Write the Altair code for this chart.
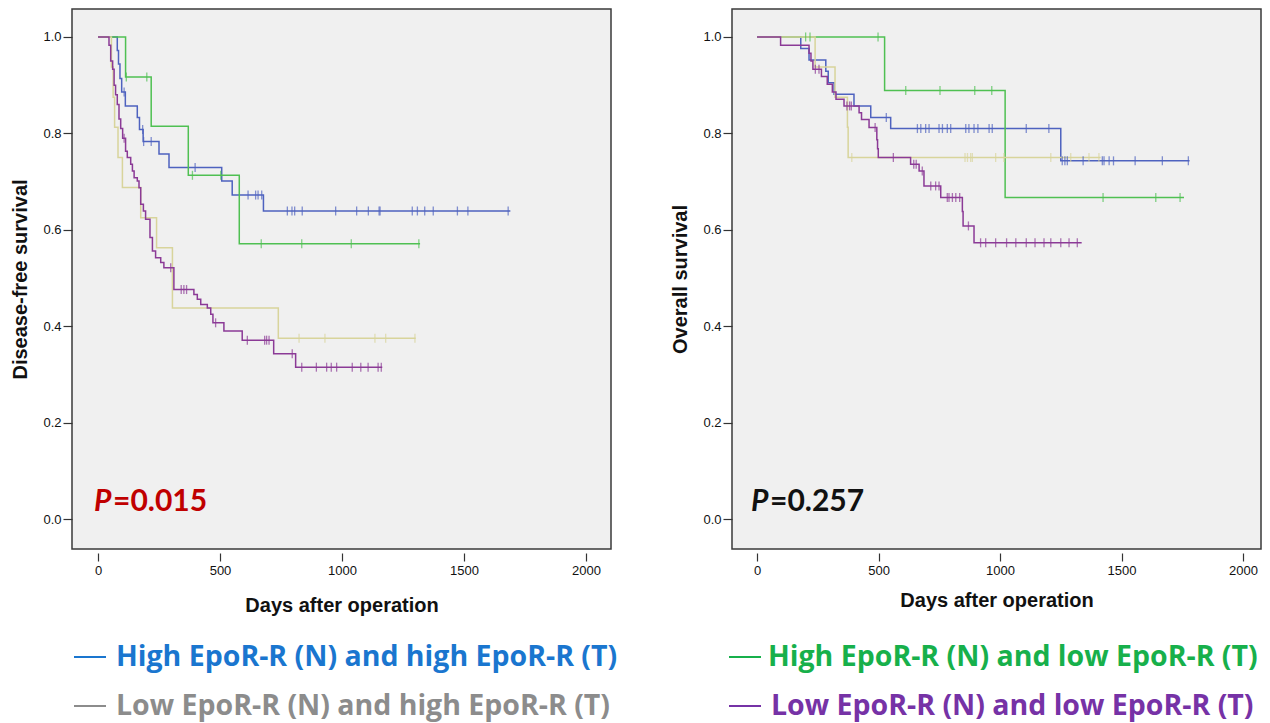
import altair as alt
import pandas as pd

# ---------------- Disease-free survival (left) ----------------
dfs_blue_t = [79, 84, 90, 97, 112, 161, 170, 185, 250, 291, 507, 550, 678]
dfs_blue_s = [0.972, 0.944, 0.914, 0.886, 0.857, 0.833, 0.808, 0.783, 0.757, 0.729, 0.701, 0.672, 0.639]
dfs_blue_c = [107, 183, 187, 218, 398, 615, 646, 656, 671, 776, 795, 806, 837, 974, 1060, 1108,
              1152, 1156, 1288, 1309, 1339, 1374, 1473, 1516, 1681]
dfs_blue_end = 1690

dfs_green_t = [113, 218, 370, 579]
dfs_green_s = [0.917, 0.815, 0.713, 0.571]
dfs_green_c = [116, 200, 387, 503, 669, 835, 1038, 1315]
dfs_green_end = 1320

dfs_tan_t = [55, 62, 68, 82, 100, 175, 240, 305, 739]
dfs_tan_s = [0.9375, 0.875, 0.8125, 0.75, 0.6875, 0.625, 0.5625, 0.4375, 0.375]
dfs_tan_c = [824, 930, 1135, 1179, 1299]
dfs_tan_end = 1302

dfs_purple_t = [45, 52, 60, 66, 72, 79, 86, 93, 101, 113, 120, 134, 141, 148, 161, 168, 175, 186,
                195, 213, 223, 236, 257, 270, 311, 393, 407, 421, 448, 462, 471, 516, 591, 720, 810]
dfs_purple_s = [0.983, 0.95, 0.933, 0.90, 0.88, 0.86, 0.83, 0.81, 0.79, 0.763, 0.750, 0.736, 0.722,
                0.708, 0.701, 0.687, 0.653, 0.639, 0.622, 0.584, 0.556, 0.542, 0.532, 0.521, 0.476,
                0.466, 0.456, 0.445, 0.438, 0.425, 0.407, 0.390, 0.371, 0.343, 0.315]
dfs_purple_c = [107, 298, 341, 352, 363, 482, 612, 683, 691, 701, 796, 835, 895, 937, 956, 978,
                1042, 1077, 1107, 1148, 1161]
dfs_purple_end = 1165

# ---------------- Overall survival (right) ----------------
os_blue_t = [180, 214, 283, 293, 317, 399, 468, 550, 1250]
os_blue_s = [0.976, 0.952, 0.929, 0.905, 0.881, 0.857, 0.833, 0.810, 0.743]
os_blue_c = [532, 660, 674, 694, 708, 749, 763, 783, 797, 859, 872, 893, 909, 955, 968, 1108, 1201,
             1256, 1267, 1277, 1342, 1421, 1428, 1449, 1467, 1556, 1668, 1775]
os_blue_end = 1780

os_green_t = [525, 1021]
os_green_s = [0.889, 0.667]
os_green_c = [200, 218, 498, 612, 753, 896, 966, 1424, 1641, 1741]
os_green_end = 1757

os_tan_t = [239, 321, 372, 375]
os_tan_s = [0.9375, 0.875, 0.8125, 0.75]
os_tan_c = [390, 856, 866, 879, 886, 982, 1016, 1209, 1291, 1366, 1407]
os_tan_end = 1414

os_purple_t = [97, 214, 222, 230, 265, 289, 310, 325, 358, 420, 430, 461, 493, 496, 499, 632, 667,
               687, 756, 845, 848, 893]
os_purple_s = [0.983, 0.966, 0.950, 0.933, 0.918, 0.902, 0.886, 0.871, 0.857, 0.843, 0.829, 0.812,
               0.787, 0.768, 0.750, 0.736, 0.722, 0.691, 0.667, 0.638, 0.608, 0.573]
os_purple_c = [240, 255, 370, 381, 388, 486, 561, 645, 655, 680, 715, 735, 749, 783, 790, 804, 818,
               834, 870, 920, 941, 982, 1027, 1065, 1108, 1144, 1181, 1209, 1250, 1284, 1318]
os_purple_end = 1336

groups = ["HH", "HL", "LH", "LL"]
line_colors = ["#4e62bf", "#4fc052", "#d8d49b", "#8b3a96"]

legend_labels = ["High EpoR-R (N) and high EpoR-R (T)", "High EpoR-R (N) and low EpoR-R (T)",
                 "Low EpoR-R (N) and high EpoR-R (T)", "Low EpoR-R (N) and low EpoR-R (T)"]
legend_colors = ["#1a76cf", "#17b04b", "#8c8c8c", "#7632a6"]

p_values = ["=0.015", "=0.257"]
p_colors = ["#c00000", "#111111"]
y_titles = ["Disease-free survival", "Overall survival"]
x_title = "Days after operation"
x_ticks = [0, 500, 1000, 1500, 2000]
y_ticks = [0.0, 0.2, 0.4, 0.6, 0.8, 1.0]


def km_tables(series):
    line_rows, cens_rows = [], []
    for g, (t, s, c, end) in series.items():
        line_rows.append({"group": g, "day": 0, "surv": 1.0})
        for ti, si in zip(t, s):
            line_rows.append({"group": g, "day": ti, "surv": si})
        line_rows.append({"group": g, "day": end, "surv": s[-1]})
        for ci in c:
            val = 1.0
            for ti, si in zip(t, s):
                if ti <= ci:
                    val = si
            cens_rows.append({"group": g, "day": ci, "surv": val})
    return pd.DataFrame(line_rows), pd.DataFrame(cens_rows)


FONT_AX = "Liberation Sans"
FONT_TXT = "Open Sans"
FONT_P = "Lato"


def panel(series, xdom, width, y_title, p_text, p_color, title_pad, leg_idx, leg_x):
    lines, cens = km_tables(series)
    color = alt.Color("group:N", scale=alt.Scale(domain=groups, range=line_colors), legend=None)
    xs = alt.X("day:Q", scale=alt.Scale(domain=xdom, nice=False, zero=False),
               axis=alt.Axis(values=x_ticks, format="d", domain=False, grid=False, tickSize=8,
                             tickColor="#333", tickWidth=1.2, offset=4, labelFont=FONT_AX,
                             labelFontSize=13, labelColor="#111", labelPadding=3, title=x_title,
                             titleFont=FONT_AX, titleFontSize=20, titleFontWeight="bold",
                             titleColor="#111", titlePadding=title_pad))
    ys = alt.Y("surv:Q", scale=alt.Scale(domain=[-0.0622, 1.058], nice=False, zero=False),
               axis=alt.Axis(values=y_ticks, format=".1f", domain=False, grid=False, tickSize=9,
                             tickColor="#333", tickWidth=1.2, labelFont=FONT_AX, labelFontSize=13,
                             labelColor="#111", labelPadding=2, title=y_title, titleFont=FONT_AX,
                             titleFontSize=20, titleFontWeight="bold", titleColor="#111",
                             titlePadding=12))
    line = alt.Chart(lines).mark_line(interpolate="step-after", strokeWidth=1.5).encode(
        x=xs, y=ys, color=color, detail="group:N")
    ticks = alt.Chart(cens).mark_tick(orient="vertical", size=9, thickness=1.3).encode(
        x="day:Q", y="surv:Q", color=color)

    one = pd.DataFrame({"k": [0]})
    layers = [line, ticks]
    layers.append(alt.Chart(one).mark_text(text="P", font=FONT_P, fontSize=30, fontWeight="bold",
                                           fontStyle="italic", color=p_color, align="left",
                                           baseline="middle").encode(
        x=alt.value(leg_x[2]), y=alt.value(493)))
    layers.append(alt.Chart(one).mark_text(text=p_text, font=FONT_P, fontSize=30, fontWeight="bold",
                                           color=p_color, align="left", baseline="middle").encode(
        x=alt.value(leg_x[2] + 19), y=alt.value(493)))
    for row, idx in enumerate(leg_idx):
        yv = 648 if row == 0 else 697
        layers.append(alt.Chart(one).mark_rule(color=legend_colors[idx], strokeWidth=2).encode(
            x=alt.value(leg_x[0]), x2=alt.value(leg_x[0] + 32), y=alt.value(yv)))
        layers.append(alt.Chart(one).mark_text(text=legend_labels[idx], font=FONT_TXT,
                                               fontSize=28.5, fontWeight="bold",
                                               color=legend_colors[idx], align="left",
                                               baseline="middle").encode(
            x=alt.value(leg_x[1] + (3 if row == 1 and leg_x[0] < 0 else 0)), y=alt.value(yv)))
    return alt.layer(*layers).properties(width=width, height=540)


left = panel({"HH": (dfs_blue_t, dfs_blue_s, dfs_blue_c, dfs_blue_end),
              "HL": (dfs_green_t, dfs_green_s, dfs_green_c, dfs_green_end),
              "LH": (dfs_tan_t, dfs_tan_s, dfs_tan_c, dfs_tan_end),
              "LL": (dfs_purple_t, dfs_purple_s, dfs_purple_c, dfs_purple_end)},
             [-106.6, 2102.5], 539, y_titles[0], p_values[0], p_colors[0], 18, [0, 2], [2, 44, 22])

right = panel({"HH": (os_blue_t, os_blue_s, os_blue_c, os_blue_end),
               "HL": (os_green_t, os_green_s, os_green_c, os_green_end),
               "LH": (os_tan_t, os_tan_s, os_tan_c, os_tan_end),
               "LL": (os_purple_t, os_purple_s, os_purple_c, os_purple_end)},
              [-103, 2074], 529, y_titles[1], p_values[1], p_colors[1], 13, [1, 3], [-3, 36, 19])

chart = alt.hconcat(left, right, spacing=121, bounds="flush").properties(
    padding={"left": 2, "top": 0, "right": 0, "bottom": 0}, background="white"
).configure_view(fill="#f0f0f0", stroke="#3a3a3a", strokeWidth=1.5)

chart.save("out.html", embed_options={"renderer": "svg", "actions": False})
